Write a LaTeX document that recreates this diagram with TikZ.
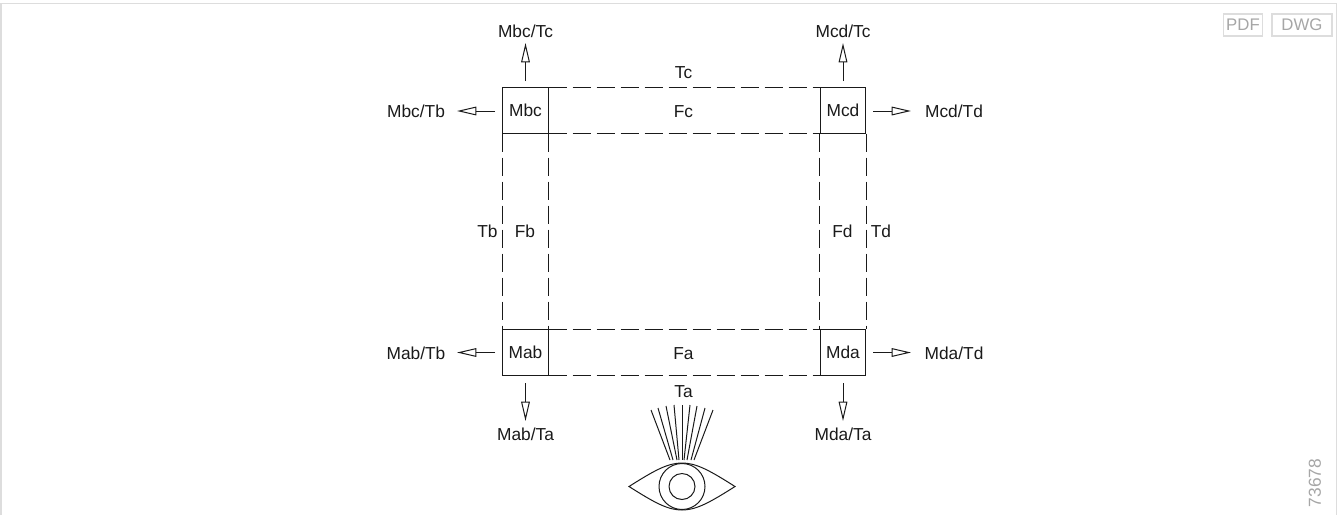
\documentclass[tikz,border=0pt]{standalone}
\usepackage{fontspec}
\setmainfont{Liberation Sans}
\usetikzlibrary{arrows.meta}
\definecolor{framegray}{HTML}{DDDDDD}
\definecolor{tagtext}{HTML}{A6A6A6}
\definecolor{inkc}{HTML}{1A1A1A}
\tikzset{
  px/.style={x=0.75pt,y=-0.75pt},
  cell/.style={draw=inkc,line width=0.75pt,minimum width=33.9pt,minimum height=33.9pt,inner sep=0pt,font=\fontsize{13}{15}\selectfont,text=inkc},
  lab/.style={inner sep=0pt,font=\fontsize{13}{15}\selectfont,text=inkc},
  tag/.style={draw=framegray,line width=1.1pt,inner sep=0pt,minimum height=16.5pt,font=\fontsize{12.6}{14}\selectfont,text=tagtext},
  dashline/.style={draw=inkc,line width=0.75pt,dash pattern=on 13.5pt off 4.5pt},
  force/.style={draw=inkc,line width=0.75pt,-{Triangle[open,length=14.5pt,width=6.5pt,fill=white]}},
  eyeline/.style={draw=inkc,line width=0.75pt},
}
\begin{document}
\begin{tikzpicture}[px]
\useasboundingbox (0,0) rectangle (1341,515);
\draw[framegray,line width=1.1pt] (1,515) -- (1,3.5) -- (1336.5,3.5) -- (1336.5,515);
% corner cells
\node[cell] (mbc) at (525.5,110.5) {Mbc};
\node[cell] (mcd) at (843,110.5) {Mcd};
\node[cell] (mab) at (525.5,352.5) {Mab};
\node[cell] (mda) at (843,352.5) {Mda};
% dashed bands
\draw[dashline] (mbc.north east) -- (mcd.north west);
\draw[dashline] (mbc.south east) -- (mcd.south west);
\draw[dashline] (mab.north east) -- (mda.north west);
\draw[dashline] (mab.south east) -- (mda.south west);
\draw[dashline] (mbc.south west) -- (mab.north west);
\draw[dashline] (mbc.south east) -- (mab.north east);
\draw[dashline] (mcd.south west) -- (mda.north west);
\draw[dashline] (mcd.south east) -- (mda.north east);
% band labels
\node[lab] (tc) at (683.5,73) {Tc};
\node[lab] (fc) at (683.5,111.5) {Fc};
\node[lab] (fa) at (683.5,353.5) {Fa};
\node[lab] (ta) at (683.5,391.5) {Ta};
\node[lab] (tb) at (487.5,231.5) {Tb};
\node[lab] (fb) at (525,231.5) {Fb};
\node[lab] (fd) at (842.5,231.5) {Fd};
\node[lab] (td) at (881,231.5) {Td};
% force labels
\node[lab] (mbctc) at (525.5,31) {Mbc/Tc};
\node[lab] (mcdtc) at (843,31) {Mcd/Tc};
\node[lab] (mbctb) at (416,111.5) {Mbc/Tb};
\node[lab] (mcdtd) at (954,111.5) {Mcd/Td};
\node[lab] (mabtb) at (416,353.5) {Mab/Tb};
\node[lab] (mdatd) at (954,353.5) {Mda/Td};
\node[lab] (mabta) at (525.5,434) {Mab/Ta};
\node[lab] (mdata) at (843,434) {Mda/Ta};
% force arrows
\coordinate (a1s) at (525.5,81); \coordinate (a1e) at (525.5,43);
\coordinate (a2s) at (843,81);   \coordinate (a2e) at (843,43);
\coordinate (a3s) at (495,111);  \coordinate (a3e) at (457,111);
\coordinate (a4s) at (873,111);  \coordinate (a4e) at (911,111);
\coordinate (a5s) at (495,352.5);\coordinate (a5e) at (457,352.5);
\coordinate (a6s) at (873,352.5);\coordinate (a6e) at (911,352.5);
\coordinate (a7s) at (525.5,383);\coordinate (a7e) at (525.5,421);
\coordinate (a8s) at (843,383);  \coordinate (a8e) at (843,421);
\foreach \i in {1,...,8} \draw[force] (a\i s) -- (a\i e);
% eye
\draw[eyeline] (629,486.5) .. controls (655,470) and (668,463) .. (682,463) .. controls (696,463) and (709,470) .. (735,486.5) .. controls (709,503) and (696,510) .. (682,510) .. controls (668,510) and (655,503) .. (629,486.5) -- cycle;
\draw[eyeline] (682,486.5) circle (23);
\draw[eyeline] (682,486.5) circle (13);
\foreach \xa/\ya/\xb/\yb in {651/410/670/460, 658/408/673/460, 666/406/677/460, 674/405/679/460, 682/405/682/460, 690/405/684/460, 697/406/687/460, 705/408/691/460, 713/410/694/460}
  \draw[eyeline] (\xa,\ya) -- (\xb,\yb);
% tags
\node[tag,minimum width=29pt] (pdf) at (1243,25) {PDF};
\node[tag,minimum width=45pt] (dwg) at (1302,25) {DWG};
\node[rotate=90,inner sep=0pt,font=\fontsize{13}{15}\selectfont,text=tagtext] (num) at (1315,483) {73678};
\end{tikzpicture}
\end{document}
